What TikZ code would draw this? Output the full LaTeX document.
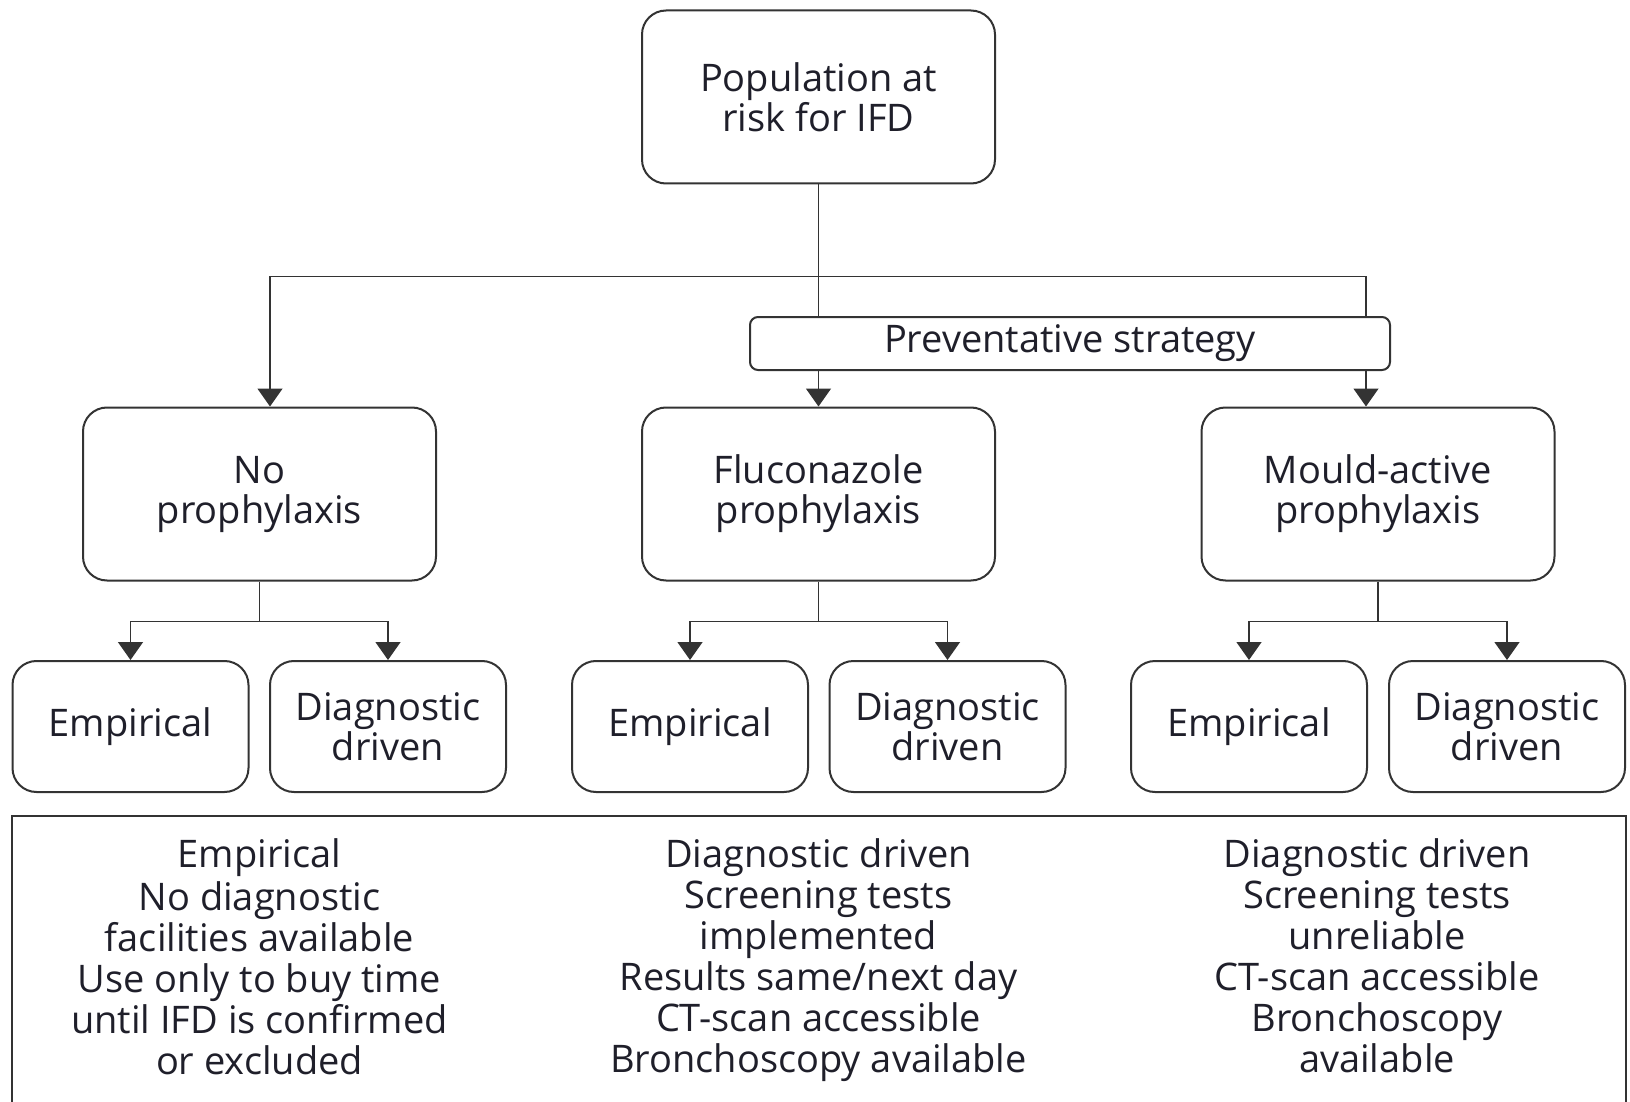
\documentclass[tikz,border=0pt]{standalone}
\usepackage{fontspec}
\setmainfont{Open Sans}
\usetikzlibrary{arrows.meta,calc}
\definecolor{ink}{HTML}{1F1F2A}
\definecolor{linec}{HTML}{333333}
\begin{document}
\begin{tikzpicture}[x=0.5pt,y=-0.5pt,
  every node/.style={font=\fontsize{19}{20}\selectfont, text=ink, align=center, inner sep=0pt},
  bigbox/.style={draw=linec, line width=1pt, rounded corners=12pt, minimum width=176.5pt, minimum height=86.5pt},
  smallbox/.style={draw=linec, line width=1pt, rounded corners=12pt, minimum width=118pt, minimum height=65.5pt},
  prevbox/.style={draw=linec, line width=1pt, rounded corners=4pt, minimum width=320pt, minimum height=26.5pt},
  conn/.style={draw=linec, line width=0.75pt},
  arr/.style={conn, -{Triangle[width=12.5pt,length=9pt]}},
  bodytext/.style={font=\fontsize{19}{20.5}\selectfont, anchor=north}
]
\useasboundingbox (0,0) rectangle (1630,1102);
\fill[white] (0,0) rectangle (1630,1102);

% nodes
\node[bigbox] (top) at (818.5,97) {Population at\\risk for IFD};
\node[prevbox] (prev) at (1070,343.5) {Preventative strategy};
\node[bigbox] (no) at (259.5,494) {No\\prophylaxis};
\node[bigbox] (flu) at (818.5,494) {Fluconazole\\prophylaxis};
\node[bigbox] (mould) at (1378,494) {Mould-active\\prophylaxis};
\node[smallbox] (e1) at (130.5,726.5) {Empirical};
\node[smallbox] (d1) at (388,726.5) {Diagnostic\\driven};
\node[smallbox] (e2) at (690,726.5) {Empirical};
\node[smallbox] (d2) at (947.5,726.5) {Diagnostic\\driven};
\node[smallbox] (e3) at (1249,726.5) {Empirical};
\node[smallbox] (d3) at (1507,726.5) {Diagnostic\\driven};

% coordinates
\coordinate (hl) at (270,276.5);
\coordinate (hr) at (1366,276.5);
\coordinate (j1) at (259.5,621.5);
\coordinate (j2) at (818.5,621.5);
\coordinate (j3) at (1378,621.5);

% connectors top
\draw[conn] (top.south) -- (top.south |- prev.north);
\draw[arr] (top.south |- prev.south) -- (flu.north);
\draw[conn] (hl) -- (hr);
\draw[arr] (hl) -- (hl |- no.north);
\draw[conn] (hr) -- (hr |- prev.north);
\draw[arr] (hr |- prev.south) -- (hr |- mould.north);

% connectors to row 3
\draw[conn] (no.south) -- (j1);
\draw[arr] (j1) -| (e1.north);
\draw[arr] (j1) -| (d1.north);
\draw[conn] (flu.south) -- (j2);
\draw[arr] (j2) -| (e2.north);
\draw[arr] (j2) -| (d2.north);
\draw[conn] (mould.south) -- (j3);
\draw[arr] (j3) -| (e3.north);
\draw[arr] (j3) -| (d3.north);

% bottom legend box (open at the bottom)
\draw[draw=linec, line width=1pt] (12,1102) -- (12,816) -- (1625.5,816) -- (1625.5,1102);
\node[bodytext] (t1) at (259.5,838) {\strut Empirical\\No diagnostic\\facilities available\\Use only to buy time\\until IFD is confirmed\\or excluded};
\node[bodytext] (t2) at (818.5,838) {\strut Diagnostic driven\\Screening tests\\implemented\\Results same/next day\\CT-scan accessible\\Bronchoscopy available};
\node[bodytext] (t3) at (1377,838) {\strut Diagnostic driven\\Screening tests\\unreliable\\CT-scan accessible\\Bronchoscopy\\available};
\end{tikzpicture}
\end{document}
